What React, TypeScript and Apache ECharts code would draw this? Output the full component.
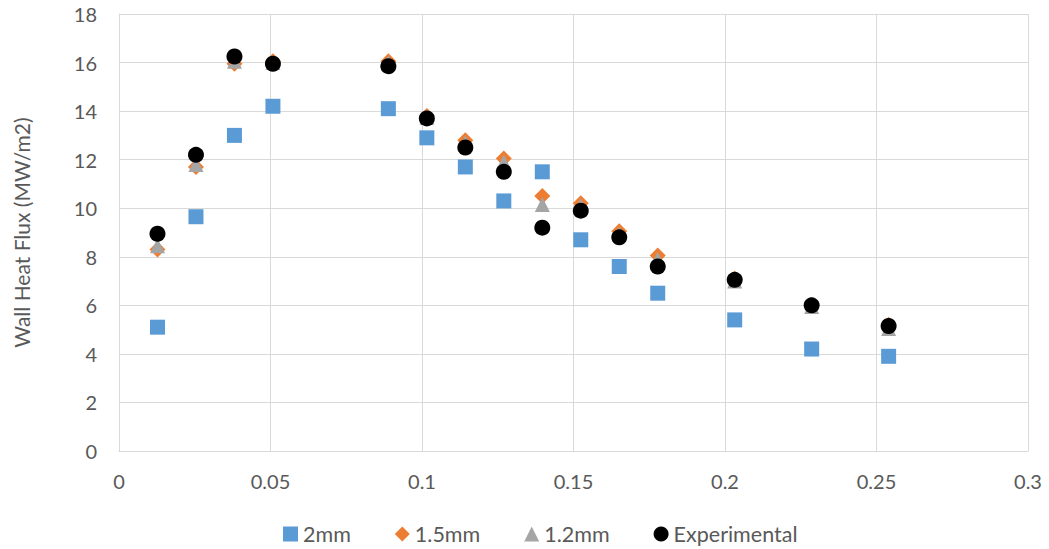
import React, { useEffect, useRef } from "react";
import * as echarts from "echarts";

const xValues = [0.0127, 0.0254, 0.0381, 0.0508, 0.0889, 0.1016, 0.1143, 0.127, 0.1397, 0.1524, 0.1651, 0.1778, 0.2032, 0.2286, 0.254];
const s2mm = [5.1, 9.65, 13.0, 14.2, 14.1, 12.9, 11.7, 10.3, 11.5, 8.7, 7.6, 6.5, 5.4, 4.2, 3.9];
const s15mm = [8.3, 11.7, 15.95, 16.05, 16.05, 13.8, 12.8, 12.05, 10.5, 10.2, 9.05, 8.05, 7.1, 6.0, 5.2];
const s12mm = [8.45, 11.8, 16.05, 16.0, 16.0, 13.75, 12.7, 11.9, 10.15, 10.1, 8.95, 7.9, 7.0, 5.95, 5.05];
const sExp = [8.95, 12.2, 16.25, 15.95, 15.85, 13.7, 12.5, 11.5, 9.2, 9.9, 8.8, 7.6, 7.05, 6.0, 5.15];

const pair = (ys: number[]) => xValues.map((x, i) => [x, ys[i]]);

const FONT = "Lato";
const TXT = "#595959";

export default function App() {
  const ref = useRef<HTMLDivElement>(null);
  useEffect(() => {
    const chart = echarts.init(ref.current!, null, { renderer: "svg" });
    chart.setOption({
      animation: false,
      backgroundColor: "#fff",
      textStyle: { fontFamily: FONT },
      grid: { left: 119, right: 21, top: 14, bottom: 98, containLabel: false, outerBoundsMode: "none" },
      legend: {
        top: 518,
        left: 278,
        itemWidth: 15,
        itemHeight: 15,
        itemGap: 44,
        textStyle: { fontSize: 21.5, color: TXT, fontFamily: FONT },
        data: ["2mm", "1.5mm", "1.2mm", "Experimental"],
      },
      xAxis: {
        type: "value",
        min: 0,
        max: 0.3,
        interval: 0.05,
        axisLine: { show: true, lineStyle: { color: "#D9D9D9" } },
        axisTick: { show: false },
        splitLine: { show: true, lineStyle: { color: "#D9D9D9", width: 1 } },
        axisLabel: { fontSize: 20, color: TXT, margin: 20, fontFamily: FONT },
      },
      yAxis: {
        type: "value",
        min: 0,
        max: 18,
        interval: 2,
        name: "Wall Heat Flux (MW/m2)",
        nameLocation: "middle",
        nameGap: 87,
        nameTextStyle: { fontSize: 21, color: TXT, fontFamily: FONT },
        axisLine: { show: true, lineStyle: { color: "#D9D9D9" } },
        axisTick: { show: false },
        splitLine: { show: true, lineStyle: { color: "#D9D9D9", width: 1 } },
        axisLabel: { fontSize: 20, color: TXT, margin: 22, fontFamily: FONT },
      },
      series: [
        { name: "2mm", type: "scatter", symbol: "rect", symbolSize: 15, itemStyle: { color: "#5B9BD5", opacity: 1 }, data: pair(s2mm) },
        { name: "1.5mm", type: "scatter", symbol: "diamond", symbolSize: 16, itemStyle: { color: "#ED7D31", opacity: 1 }, data: pair(s15mm) },
        { name: "1.2mm", type: "scatter", symbol: "triangle", symbolSize: 15, itemStyle: { color: "#A5A5A5", opacity: 1 }, data: pair(s12mm) },
        { name: "Experimental", type: "scatter", symbol: "circle", symbolSize: 16, itemStyle: { color: "#000000", opacity: 1 }, data: pair(sExp) },
      ],
    });
    return () => chart.dispose();
  }, []);
  return <div ref={ref} style={{ position: "absolute", left: 0, top: 0, width: 1049, height: 549 }} />;
}
